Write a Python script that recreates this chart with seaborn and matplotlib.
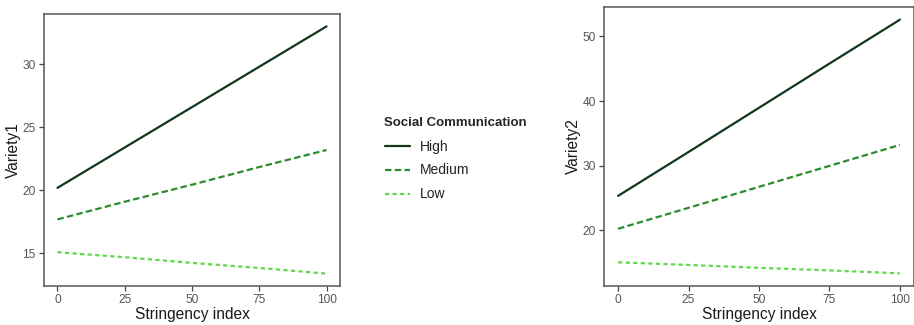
import numpy as np
import pandas as pd
import matplotlib
matplotlib.use("Agg")
import matplotlib.pyplot as plt
import seaborn as sns
from matplotlib.lines import Line2D

# ---- data ----
stringency = [0, 25, 50, 75, 100]
levels = ["High", "Medium", "Low"]
v1_high = [20.2, 23.4, 26.6, 29.8, 33.0]
v1_medium = [17.7, 19.1, 20.45, 21.85, 23.2]
v1_low = [15.1, 14.7, 14.25, 13.85, 13.4]
v2_high = [25.3, 32.1, 38.95, 45.8, 52.6]
v2_medium = [20.2, 23.45, 26.7, 29.95, 33.2]
v2_low = [15.0, 14.6, 14.15, 13.75, 13.3]
legend_title = "Social Communication"

colors = {"High": "#12361a", "Medium": "#2c8c2c", "Low": "#5fd94a"}
dashes = {"High": "", "Medium": (2.9, 1.5), "Low": (1.9, 1.5)}

def make_df(h, m, l):
    return pd.DataFrame({
        "Stringency index": stringency * 3,
        "value": h + m + l,
        "level": ["High"] * 5 + ["Medium"] * 5 + ["Low"] * 5,
    })

sns.set_theme(style="white")
plt.rcParams["font.family"] = ["Liberation Sans", "DejaVu Sans"]

fig = plt.figure(figsize=(9.14, 3.25), dpi=100)
ax1 = fig.add_axes([44/914, 1-286/325, (340-44)/914, (286-14)/325])
ax2 = fig.add_axes([604/914, 1-286/325, (914-604)/914, (286-7)/325])

panels = [
    (ax1, make_df(v1_high, v1_medium, v1_low), "Variety1", [15, 20, 25, 30]),
    (ax2, make_df(v2_high, v2_medium, v2_low), "Variety2", [20, 30, 40, 50]),
]

for ax, df, ylab, yt in panels:
    sns.lineplot(data=df, x="Stringency index", y="value", hue="level", style="level",
                 hue_order=levels, style_order=levels, palette=colors, dashes=dashes,
                 linewidth=1.6, legend=False, ax=ax)
    vals = df["value"]
    rng = vals.max() - vals.min()
    ax.set_ylim(vals.min() - 0.05 * rng, vals.max() + 0.05 * rng)
    ax.set_xlim(-5, 105)
    ax.set_xticks([0, 25, 50, 75, 100])
    ax.set_yticks(yt)
    ax.set_ylabel(ylab, fontsize=11.2, color="#1a1a1a")
    ax.set_xlabel("Stringency index", fontsize=11.2, color="#1a1a1a")
    ax.tick_params(axis="both", which="both", direction="out", length=3.5, width=0.9,
                   color="#444444", labelcolor="#555555", labelsize=8.6, pad=2.5,
                   bottom=True, left=True)
    for s in ax.spines.values():
        s.set_color("#555555")
        s.set_linewidth(1.1)
    ax.set_facecolor("white")
    # place axis titles as in the reference (offsets in pixels from the spines)
    bb = ax.get_position()
    w_px = bb.width * 914
    h_px = bb.height * 325
    ax.yaxis.set_label_coords(-31 / w_px, 0.5)
    ax.xaxis.set_label_coords(0.5, -28 / h_px)
    ax.xaxis.label.set_va("center")
    ax.yaxis.label.set_va("center")

handles = []
for k in levels:
    h = Line2D([0], [0], color=colors[k], lw=1.6)
    if dashes[k]:
        h.set_dashes(dashes[k])
    handles.append(h)
leg = fig.legend(handles, levels, title=legend_title, loc="upper left",
                 bbox_to_anchor=(372/914, 1-105/325), frameon=False,
                 fontsize=10, title_fontsize=9.5, handlelength=1.8,
                 handletextpad=0.75, labelspacing=0.72, alignment="left")
leg.get_title().set_fontweight("bold")
for t in leg.get_texts():
    t.set_color("#222222")

fig.savefig("out.png", dpi=100)
